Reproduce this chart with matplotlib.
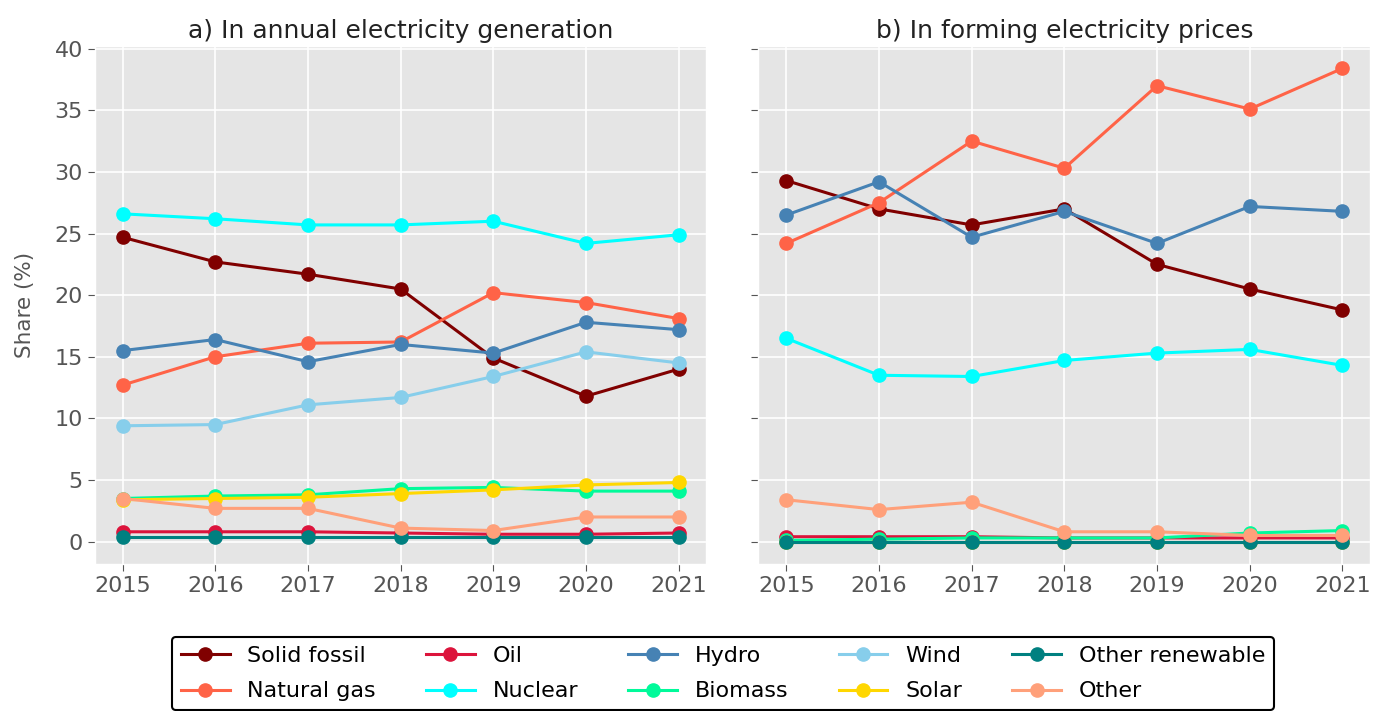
import matplotlib.pyplot as plt

plt.style.use('ggplot')

years = [2015, 2016, 2017, 2018, 2019, 2020, 2021]

sources = ['Solid fossil', 'Natural gas', 'Oil', 'Nuclear', 'Hydro',
           'Biomass', 'Wind', 'Solar', 'Other renewable', 'Other']

colors = {
    'Solid fossil': 'maroon',
    'Natural gas': 'tomato',
    'Oil': 'crimson',
    'Nuclear': 'aqua',
    'Hydro': 'steelblue',
    'Biomass': 'mediumspringgreen',
    'Wind': 'skyblue',
    'Solar': 'gold',
    'Other renewable': 'teal',
    'Other': 'lightsalmon',
}

# share in annual generation (%)
gen_solid_fossil = [24.7, 22.7, 21.7, 20.5, 14.9, 11.8, 14.0]
gen_natural_gas = [12.7, 15.0, 16.1, 16.2, 20.2, 19.4, 18.1]
gen_oil = [0.8, 0.8, 0.8, 0.7, 0.6, 0.6, 0.7]
gen_nuclear = [26.6, 26.2, 25.7, 25.7, 26.0, 24.2, 24.9]
gen_hydro = [15.5, 16.4, 14.6, 16.0, 15.3, 17.8, 17.2]
gen_biomass = [3.5, 3.7, 3.8, 4.3, 4.4, 4.1, 4.1]
gen_wind = [9.4, 9.5, 11.1, 11.7, 13.4, 15.4, 14.5]
gen_solar = [3.4, 3.5, 3.6, 3.9, 4.2, 4.6, 4.8]
gen_other_renewable = [0.4, 0.4, 0.4, 0.4, 0.4, 0.4, 0.4]
gen_other = [3.5, 2.7, 2.7, 1.1, 0.9, 2.0, 2.0]

# share in price formation (%)
price_solid_fossil = [29.3, 27.0, 25.7, 27.0, 22.5, 20.5, 18.8]
price_natural_gas = [24.2, 27.5, 32.5, 30.3, 37.0, 35.1, 38.4]
price_oil = [0.4, 0.4, 0.4, 0.3, 0.3, 0.3, 0.3]
price_nuclear = [16.5, 13.5, 13.4, 14.7, 15.3, 15.6, 14.3]
price_hydro = [26.5, 29.2, 24.7, 26.8, 24.2, 27.2, 26.8]
price_biomass = [0.1, 0.2, 0.3, 0.3, 0.3, 0.7, 0.9]
price_wind = [0.0, 0.0, 0.0, 0.0, 0.0, 0.0, 0.0]
price_solar = [0.0, 0.0, 0.0, 0.0, 0.0, 0.0, 0.0]
price_other_renewable = [0.0, 0.0, 0.0, 0.0, 0.0, 0.0, 0.0]
price_other = [3.4, 2.6, 3.2, 0.8, 0.8, 0.5, 0.5]

gen = [gen_solid_fossil, gen_natural_gas, gen_oil, gen_nuclear, gen_hydro,
       gen_biomass, gen_wind, gen_solar, gen_other_renewable, gen_other]
price = [price_solid_fossil, price_natural_gas, price_oil, price_nuclear, price_hydro,
         price_biomass, price_wind, price_solar, price_other_renewable, price_other]

fig, axes = plt.subplots(1, 2, figsize=(13.73, 7.11), dpi=100, sharey=True)
fig.patch.set_facecolor('white')

titles = ['a) In annual electricity generation', 'b) In forming electricity prices']

for ax, data, title in zip(axes, [gen, price], titles):
    for name, values in zip(sources, data):
        ax.plot(years, values, marker='o', markersize=9.5, linewidth=2.2,
                color=colors[name], label=name)
    ax.set_title(title, fontsize=18, color='#222222')
    ax.set_xticks(years)
    ax.tick_params(labelsize=16, colors='#555555', length=5)
    ax.set_yticks(range(0, 41, 5))
    ax.set_ylim(-1.8, 40.2)
    ax.grid(True, color='white', linewidth=1.2)

axes[0].set_ylabel('Share (%)', fontsize=15.5, color='#555555', labelpad=14)

leg = axes[0].legend(loc='lower center', ncol=5, fontsize=16, frameon=True,
                     bbox_to_anchor=(0.5265, 0.001), bbox_transform=fig.transFigure,
                     borderaxespad=0, columnspacing=2.25, handlelength=2.2,
                     borderpad=0.4, labelspacing=0.7, handletextpad=0.8)
leg.get_frame().set_edgecolor('black')
leg.get_frame().set_facecolor('white')
leg.get_frame().set_linewidth(1.5)
leg.get_frame().set_alpha(1)

fig.subplots_adjust(left=0.069, right=0.998, top=0.935, bottom=0.207, wspace=0.085)
fig.savefig('out.png', dpi=100)
